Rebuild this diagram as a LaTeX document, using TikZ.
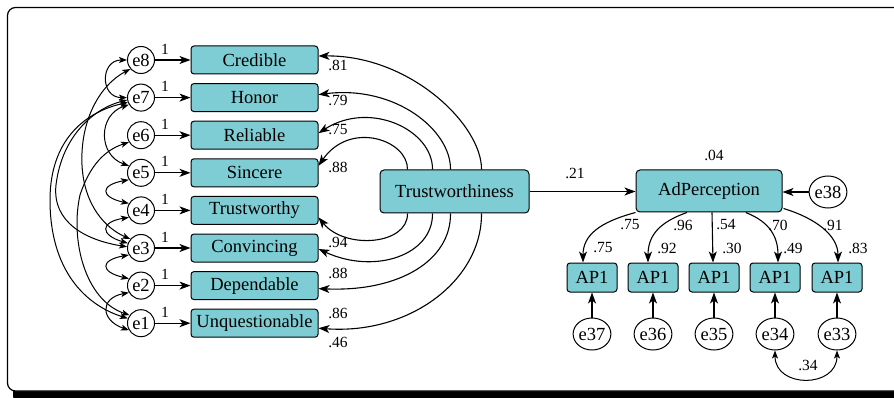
\documentclass[tikz,border=0pt]{standalone}
\usepackage{fontspec}
\setmainfont{Liberation Serif}
\newfontfamily\diagfont{Liberation Serif}
\usetikzlibrary{arrows.meta,calc,shapes.geometric}
\definecolor{boxteal}{RGB}{127,205,212}
\begin{document}
\begin{tikzpicture}[x=1pt,y=-1pt,
  every node/.style={font=\diagfont\fontsize{18.5}{20}\selectfont},
  item/.style={draw, line width=1pt, fill=boxteal, rounded corners=3pt,
    minimum width=127pt, minimum height=28pt, inner sep=0pt},
  latent/.style={item, rounded corners=4pt, minimum height=43pt},
  apbox/.style={item, minimum width=50pt, minimum height=29pt},
  err/.style={draw, circle, line width=1pt, fill=white, minimum size=27pt, inner sep=0pt},
  errbig/.style={draw, ellipse, line width=1pt, fill=white, minimum width=34pt,
    minimum height=32pt, inner sep=0pt},
  coef/.style={font=\diagfont\fontsize{15.5}{17}\selectfont, inner sep=0pt},
  link/.style={line width=1.1pt, -{Stealth[length=11pt,width=8pt,inset=3pt]}},
  cov/.style={line width=1pt, {Stealth[length=8pt,width=6pt,inset=2pt]}-{Stealth[length=8pt,width=6pt,inset=2pt]}},
]
\useasboundingbox (0,0) rectangle (894,398);

% frame with drop shadow
\begin{scope}
  \clip (0,0) rectangle (894,398);
  \fill[black, rounded corners=8pt] (13,13) rectangle (916,404);
  \draw[fill=white, line width=1.2pt, rounded corners=8pt] (7.5,7.5) rectangle (910,391);
\end{scope}

% indicators of Trustworthiness with their error terms
\foreach \i/\y/\t in {8/60/Credible, 7/97.6/Honor, 6/135.2/Reliable, 5/172.8/Sincere,
    4/210.4/Trustworthy, 3/248/Convincing, 2/285.6/Dependable, 1/323.2/Unquestionable} {
  \node[err] (e\i) at (141,\y) {e\i};
  \node[item] (b\i) at (254.5,\y) {\t};
  \draw[link] (e\i) -- (b\i);
  \node[coef] (one\i) at (165,\y-11) {1};
}

% latent variables
\node[latent, minimum width=149pt] (tw) at (454.5,191.5) {Trustworthiness};
\node[latent, minimum width=146pt, minimum height=42pt] (ad) at (709,191) {AdPerception};
\node[errbig] (e38) at (828,192) {e38};

\draw[link] (tw.east) -- (tw.east -| ad.west);
\draw[link] (e38.west) -- (e38.west -| ad.east);
\node[coef] (c21) at (575,173) {.21};
\node[coef] (c04) at (714,155) {.04};

% loadings of Trustworthiness
\draw[link] ($(tw.north west)+(102,0)$) .. controls (482,125) and (410,55) .. ($(b8.east)+(0,-4)$);
\draw[link] ($(tw.north west)+(71,0)$) .. controls (451,130) and (395,85) .. ($(b7.east)+(0,-3)$);
\draw[link] ($(tw.north west)+(53,0)$) .. controls (433,130) and (370,100) .. ($(b6.east)+(0,-2)$);
\draw[link] ($(tw.north west)+(28,0)$) .. controls (408,140) and (350,120) .. ($(b5.east)+(0,-7)$);
\draw[link] ($(tw.south west)+(28,0)$) .. controls (408,245) and (345,250) .. ($(b4.east)+(0,7)$);
\draw[link] ($(tw.south west)+(53,0)$) .. controls (433,255) and (375,275) .. ($(b3.east)+(0,1)$);
\draw[link] ($(tw.south west)+(71,0)$) .. controls (451,260) and (400,292) .. ($(b2.east)+(0,3)$);
\draw[link] ($(tw.south west)+(102,0)$) .. controls (482,280) and (410,335) .. ($(b1.east)+(0,5)$);

\node[coef] (l8) at (338,65) {.81};
\node[coef] (l7) at (338,100) {.79};
\node[coef] (l6) at (338,130) {.75};
\node[coef] (l5) at (338,167) {.88};
\node[coef] (l4) at (338,242) {.94};
\node[coef] (l3) at (338,273) {.88};
\node[coef] (l2) at (338,313) {.86};
\node[coef] (l1) at (338,342) {.46};

% error covariances, neighbouring items
\draw[cov] (e8.west) .. controls (100,60) and (100,97.6) .. (e7.west);
\draw[cov] (e7.210) .. controls (98,115) and (98,155) .. (e5.150);
\draw[cov] (e5.210) .. controls (100,185) and (100,197) .. (e4.150);
\draw[cov] (e4.210) .. controls (100,222) and (100,235) .. (e3.160);
\draw[cov] (e3.210) .. controls (100,260) and (100,272) .. (e2.150);
\draw[cov] (e2.210) .. controls (100,298) and (100,320) .. (e1.210);

% error covariances, distant items
\draw[cov] (e7.200) .. controls (85,112) and (50,140) .. (50,200) .. controls (50,270) and (85,305) .. (e1.160);
\draw[cov] (e7.190) .. controls (95,108) and (62,135) .. (56,185) .. controls (52,222) and (85,240) .. (e3.175);
\draw[cov] (e8.220) .. controls (100,85) and (80,120) .. (82,165) .. controls (84,205) and (105,228) .. (e3.140);
\draw[cov] (e6.210) .. controls (105,150) and (90,165) .. (80,195) .. controls (70,240) and (85,300) .. (e1.145);

% indicators of AdPerception
\foreach \j/\x/\e in {1/592/37, 2/653/36, 3/714/35, 4/775/34, 5/837/33} {
  \node[apbox] (p\j) at (\x,277.5) {AP1};
  \node[errbig] (e\e) at (\x,334) {e\e};
  \draw[link] (e\e) -- (p\j);
}

\draw[link] (ad.south west) .. controls (600,222) and (583,235) .. ($(p1.north)+(-9,0)$);
\draw[link] ($(ad.south west)!0.35!(ad.south east)$) .. controls (660,222) and (648,235) .. ($(p2.north)+(-5,0)$);
\draw[link] ($(ad.south)+(3,0)$) -- ($(p3.north)+(-1,0)$);
\draw[link] ($(ad.south west)!0.75!(ad.south east)$) .. controls (770,222) and (778,237) .. ($(p4.north)+(3,0)$);
\draw[link] ($(ad.south east)+(1,-4)$) .. controls (815,218) and (838,235) .. ($(p5.north)+(1,0)$);

\node[coef] (a1) at (630,225) {.75};
\node[coef] (a2) at (683,225) {.96};
\node[coef] (a3) at (726,225) {.54};
\node[coef] (a4) at (778,225) {.70};
\node[coef] (a5) at (833,225) {.91};
\node[coef] (r1) at (603,248) {.75};
\node[coef] (r2) at (667,248) {.92};
\node[coef] (r3) at (732,248) {.30};
\node[coef] (r4) at (793,248) {.49};
\node[coef] (r5) at (858,248) {.83};

\draw[cov] (e34.south) .. controls +(0,38) and +(0,38) .. (e33.south);
\node[coef] (c34) at (808,365) {.34};
\end{tikzpicture}
\end{document}
